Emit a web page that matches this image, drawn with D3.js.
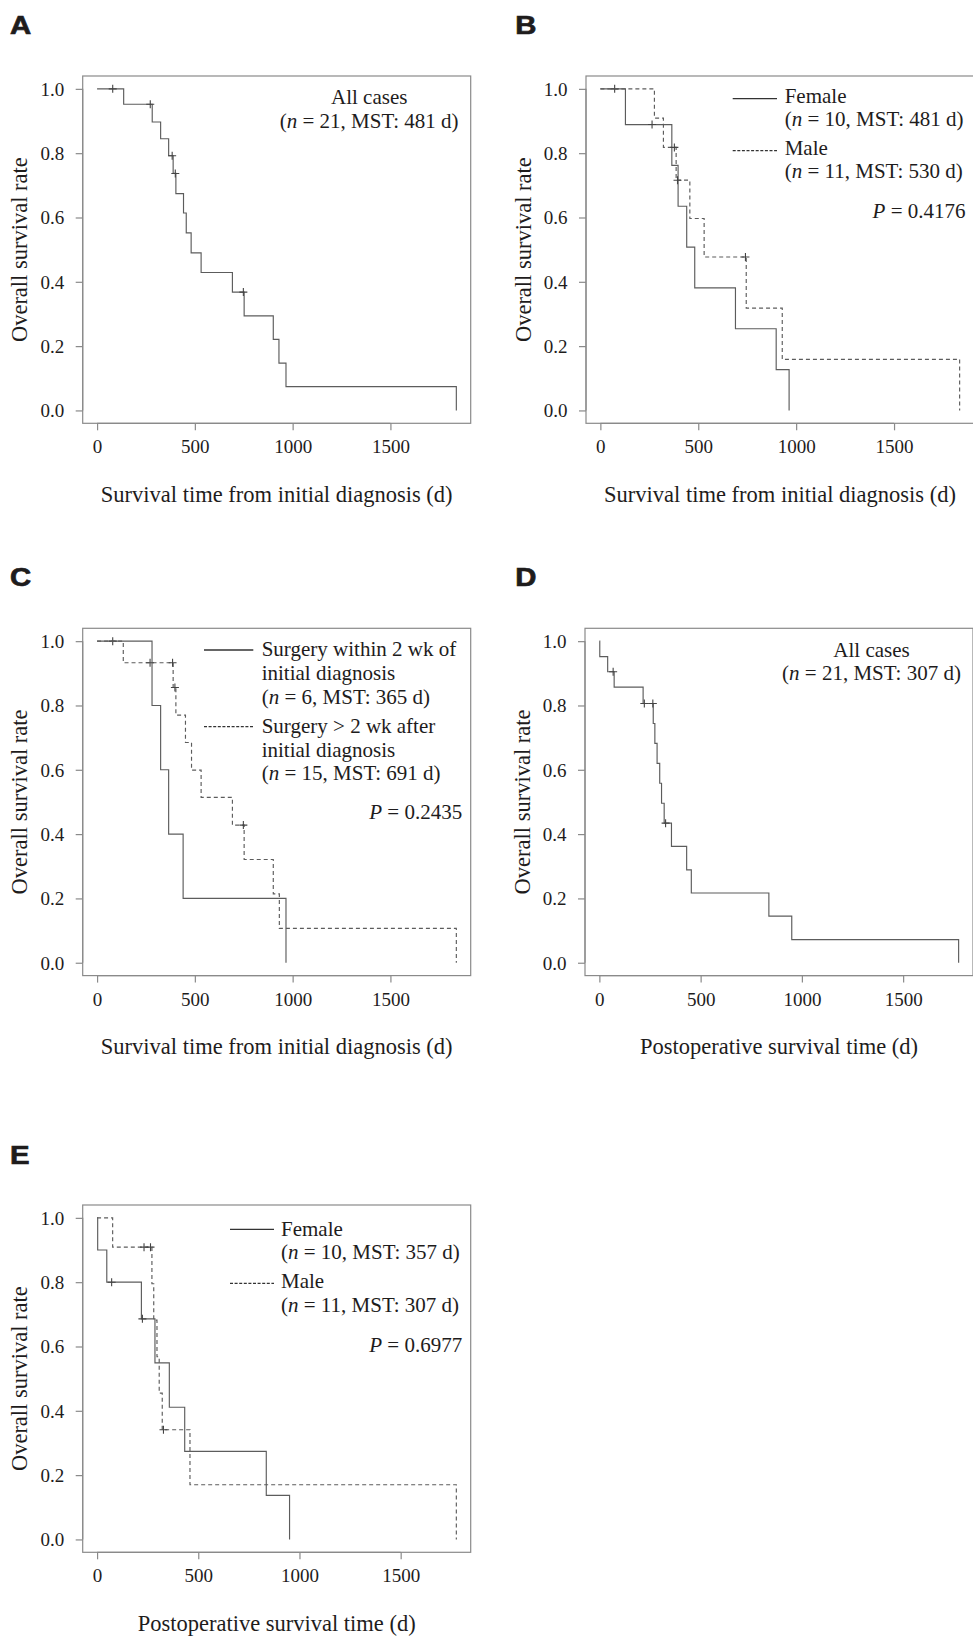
<!DOCTYPE html>
<html>
<head>
<meta charset="utf-8">
<script src="https://cdn.jsdelivr.net/npm/d3@7/dist/d3.min.js"></script>
<style>
  html, body { margin: 0; padding: 0; background: #fff; }
  svg { display: block; }
</style>
</head>
<body>
<svg id="chart" width="973" height="1637"></svg>
<script>
// ---------------- DATA ----------------
const xTicks = [0, 500, 1000, 1500];
const yTicks = [0, 0.2, 0.4, 0.6, 0.8, 1.0];

// Panel A: all cases, time from initial diagnosis
const aTimes  = [0, 136, 282, 325, 366, 389, 403, 442, 456, 481, 532, 692, 752, 901, 930, 966, 1837];
const aSurv   = [1, 0.952, 0.897, 0.845, 0.792, 0.737, 0.674, 0.614, 0.552, 0.490, 0.429, 0.368, 0.294, 0.221, 0.147, 0.074, 0];
const aCensor = [80, 272, 384, 400, 748];

// Panel B: by sex, time from initial diagnosis
const bFemaleTimes  = [0, 128, 365, 397, 441, 482, 690, 898, 964];
const bFemaleSurv   = [1, 0.889, 0.762, 0.635, 0.508, 0.381, 0.254, 0.127, 0];
const bFemaleCensor = [73, 264];
const bMaleTimes    = [0, 276, 322, 387, 457, 530, 745, 929, 1835];
const bMaleSurv     = [1, 0.909, 0.818, 0.716, 0.597, 0.477, 0.318, 0.159, 0];
const bMaleCensor   = [378, 394, 741];

// Panel C: by timing of surgery
const cEarlyTimes  = [0, 281, 325, 366, 440, 966];
const cEarlySurv   = [1, 0.8, 0.6, 0.4, 0.2, 0];
const cEarlyCensor = [80];
const cLateTimes   = [0, 134, 389, 403, 452, 483, 532, 692, 752, 901, 932, 1837];
const cLateSurv    = [1, 0.933, 0.856, 0.770, 0.685, 0.599, 0.514, 0.428, 0.321, 0.214, 0.107, 0];
const cLateCensor  = [271, 386, 398, 748];

// Panel D: all cases, postoperative time
const dTimes  = [0, 2, 41, 73, 216, 266, 274, 285, 298, 307, 320, 356, 431, 454, 837, 950, 1774];
const dSurv   = [1, 0.952, 0.905, 0.857, 0.806, 0.744, 0.682, 0.620, 0.558, 0.496, 0.434, 0.362, 0.289, 0.217, 0.145, 0.072, 0];
const dCensor = [68, 222, 264, 327];

// Panel E: by sex, postoperative time
const eFemaleTimes  = [0, 3, 48, 219, 286, 357, 433, 836, 951];
const eFemaleSurv   = [1, 0.9, 0.8, 0.686, 0.549, 0.411, 0.274, 0.137, 0];
const eFemaleCensor = [72, 224];
const eMaleTimes    = [0, 77, 271, 280, 296, 307, 322, 459, 1775];
const eMaleSurv     = [1, 0.909, 0.795, 0.682, 0.568, 0.455, 0.341, 0.170, 0];
const eMaleCensor   = [232, 264, 328];

const titleDiag = "Survival time from initial diagnosis (d)";
const titlePost = "Postoperative survival time (d)";
const yTitle = "Overall survival rate";

// ---------------- STYLE / LAYOUT ----------------
const SERIF = "'Liberation Serif', 'Times New Roman', Times, serif";
const SANS = "'Liberation Sans', Arial, Helvetica, sans-serif";
const TXT = "#1e1c1c";
const BOX = "#8a8a8a";
const CURVE = "#5c5c5c";
const W = 388, H = 347.3;

const svg = d3.select("#chart");

function mkSeries(times, surv, censor, dashed) {
  return { pts: times.map((t, i) => [t, surv[i]]), censor, dashed };
}

const panels = [
  { label: "A", lx: 10, ly: 33.5, left: 82.7, top: 76, xTitle: titleDiag,
    series: [mkSeries(aTimes, aSurv, aCensor, false)],
    legend: { type: "center", lines: [["All cases"], [["(", false], ["n", true], [" = 21, MST: 481 d)", false]]] } },
  { label: "B", lx: 515.3, ly: 33.5, left: 586, top: 76, xTitle: titleDiag,
    series: [mkSeries(bFemaleTimes, bFemaleSurv, bFemaleCensor, false),
             mkSeries(bMaleTimes, bMaleSurv, bMaleCensor, true)],
    legend: { type: "keyed", lineX0: 146.7, lineX1: 191, textX: 198.7,
      groups: [
        { dashed: false, lineY: 22.7, rows: [[["Female", false]], [["(", false], ["n", true], [" = 10, MST: 481 d)", false]]], base: [27.3, 50.3] },
        { dashed: true, lineY: 74.7, rows: [[["Male", false]], [["(", false], ["n", true], [" = 11, MST: 530 d)", false]]], base: [79.3, 102.3] }
      ],
      p: "0.4176", pBase: 142.3 } },
  { label: "C", lx: 10, ly: 585.5, left: 82.7, top: 628.3, xTitle: titleDiag,
    series: [mkSeries(cEarlyTimes, cEarlySurv, cEarlyCensor, false),
             mkSeries(cLateTimes, cLateSurv, cLateCensor, true)],
    legend: { type: "keyed", lineX0: 121.3, lineX1: 170.6, textX: 179,
      groups: [
        { dashed: false, lineY: 21.7, rows: [[["Surgery within 2 wk of", false]], [["initial diagnosis", false]], [["(", false], ["n", true], [" = 6, MST: 365 d)", false]]], base: [27.7, 51.7, 75.2] },
        { dashed: true, lineY: 98.4, rows: [[["Surgery > 2 wk after", false]], [["initial diagnosis", false]], [["(", false], ["n", true], [" = 15, MST: 691 d)", false]]], base: [104.4, 128.4, 151.9] }
      ],
      p: "0.2435", pBase: 191 } },
  { label: "D", lx: 515.3, ly: 585.5, left: 585, top: 628.3, xTitle: titlePost,
    series: [mkSeries(dTimes, dSurv, dCensor, false)],
    legend: { type: "center", lines: [["All cases"], [["(", false], ["n", true], [" = 21, MST: 307 d)", false]]] } },
  { label: "E", lx: 10, ly: 1163.5, left: 82.7, top: 1205, xTitle: titlePost,
    series: [mkSeries(eFemaleTimes, eFemaleSurv, eFemaleCensor, false),
             mkSeries(eMaleTimes, eMaleSurv, eMaleCensor, true)],
    legend: { type: "keyed", lineX0: 147.3, lineX1: 191.3, textX: 198.3,
      groups: [
        { dashed: false, lineY: 24.3, rows: [[["Female", false]], [["(", false], ["n", true], [" = 10, MST: 357 d)", false]]], base: [30.5, 54] },
        { dashed: true, lineY: 78.3, rows: [[["Male", false]], [["(", false], ["n", true], [" = 11, MST: 307 d)", false]]], base: [83, 106.8] }
      ],
      p: "0.6977", pBase: 146.7 } }
];

function addRich(sel, parts) {
  parts.forEach(([t, it]) => {
    sel.append("tspan").attr("font-style", it ? "italic" : "normal").text(t);
  });
}

function levelAt(pts, t) {
  let v = pts[0][1];
  for (const p of pts) { if (p[0] <= t) v = p[1]; else break; }
  return v;
}

panels.forEach(cfg => {
  const g = svg.append("g");
  const xMax = d3.max(cfg.series, s => d3.max(s.pts, p => p[0]));
  const x = d3.scaleLinear().domain([-0.04 * xMax, 1.04 * xMax]).range([cfg.left, cfg.left + W]);
  const y = d3.scaleLinear().domain([-0.04, 1.04]).range([cfg.top + H, cfg.top]);
  const bottom = cfg.top + H;

  // panel letter (heavy, wide sans)
  svg.append("text")
    .attr("transform", `translate(${cfg.lx},${cfg.ly + 0.5}) scale(1.15,1)`)
    .attr("font-family", SANS).attr("font-weight", "bold").attr("font-size", 25.5)
    .attr("fill", TXT).attr("stroke", TXT).attr("stroke-width", 0.7)
    .text(cfg.label);

  // box
  g.append("rect").attr("x", cfg.left).attr("y", cfg.top).attr("width", W).attr("height", H)
    .attr("fill", "none").attr("stroke", BOX).attr("stroke-width", 1.2);

  // x axis
  const xAxis = d3.axisBottom(x).tickValues(xTicks).tickSize(7).tickSizeOuter(0).tickPadding(10)
    .tickFormat(d3.format("d"));
  const xg = g.append("g").attr("transform", `translate(0,${bottom})`).call(xAxis);
  xg.select(".domain").remove();
  xg.append("line").attr("x1", x(xTicks[0])).attr("x2", x(xTicks[xTicks.length - 1]))
    .attr("stroke", BOX).attr("stroke-width", 1.2);
  xg.selectAll(".tick line").attr("stroke", BOX).attr("stroke-width", 1.2);
  xg.selectAll(".tick text").attr("font-family", SERIF).attr("font-size", 19).attr("fill", TXT)
    .attr("dy", null).attr("y", 30).attr("dominant-baseline", "auto");

  // y axis
  const yAxis = d3.axisLeft(y).tickValues(yTicks).tickSize(7).tickSizeOuter(0).tickPadding(11)
    .tickFormat(d3.format(".1f"));
  const yg = g.append("g").attr("transform", `translate(${cfg.left},0)`).call(yAxis);
  yg.select(".domain").remove();
  yg.append("line").attr("y1", y(0)).attr("y2", y(1)).attr("stroke", BOX).attr("stroke-width", 1.2);
  yg.selectAll(".tick line").attr("stroke", BOX).attr("stroke-width", 1.2);
  yg.selectAll(".tick text").attr("font-family", SERIF).attr("font-size", 19).attr("fill", TXT)
    .attr("dy", "0.34em").attr("x", -18.5);

  // axis titles
  g.append("text").attr("x", cfg.left + W / 2).attr("y", bottom + 78.4)
    .attr("text-anchor", "middle").attr("font-family", SERIF).attr("font-size", 22.5)
    .attr("fill", TXT).text(cfg.xTitle);
  g.append("text")
    .attr("transform", `translate(${cfg.left - 55.5},${y(0.5)}) rotate(-90)`)
    .attr("text-anchor", "middle").attr("font-family", SERIF).attr("font-size", 22.5)
    .attr("fill", TXT).text(yTitle);

  // curves
  const line = d3.line().x(d => x(d[0])).y(d => y(d[1])).curve(d3.curveStepAfter);
  cfg.series.forEach(s => {
    g.append("path").datum(s.pts).attr("d", line)
      .attr("fill", "none").attr("stroke", CURVE).attr("stroke-width", 1.15)
      .attr("stroke-dasharray", s.dashed ? "4,3" : null);
    // censor marks
    s.censor.forEach(t => {
      const cx = x(t), cy = y(levelAt(s.pts, t));
      g.append("path").attr("d", `M${cx - 4},${cy}H${cx + 4}M${cx},${cy - 4}V${cy + 4}`)
        .attr("stroke", "#444").attr("stroke-width", 1.1).attr("fill", "none");
    });
  });

  // legend
  const L = cfg.legend;
  const right = cfg.left + W;
  if (L.type === "center") {
    const cx = right - 101.5;
    g.append("text").attr("x", cx).attr("y", cfg.top + 28.2).attr("text-anchor", "middle")
      .attr("font-family", SERIF).attr("font-size", 21).attr("fill", TXT).text(L.lines[0][0]);
    const t2 = g.append("text").attr("x", cx).attr("y", cfg.top + 51.6).attr("text-anchor", "middle")
      .attr("font-family", SERIF).attr("font-size", 21).attr("fill", TXT);
    addRich(t2, L.lines[1]);
  } else {
    L.groups.forEach(gr => {
      g.append("line").attr("x1", cfg.left + L.lineX0).attr("x2", cfg.left + L.lineX1)
        .attr("y1", cfg.top + gr.lineY).attr("y2", cfg.top + gr.lineY)
        .attr("stroke", "#333").attr("stroke-width", 1.3)
        .attr("stroke-dasharray", gr.dashed ? "3,1.6" : null);
      gr.rows.forEach((row, i) => {
        const t = g.append("text").attr("x", cfg.left + L.textX).attr("y", cfg.top + gr.base[i])
          .attr("font-family", SERIF).attr("font-size", 21).attr("fill", TXT);
        addRich(t, row);
      });
    });
    const pt = g.append("text").attr("x", right - 8.5).attr("y", cfg.top + L.pBase)
      .attr("text-anchor", "end").attr("font-family", SERIF).attr("font-size", 21).attr("fill", TXT);
    addRich(pt, [["P", true], [" = " + L.p, false]]);
  }
});
</script>
</body>
</html>
